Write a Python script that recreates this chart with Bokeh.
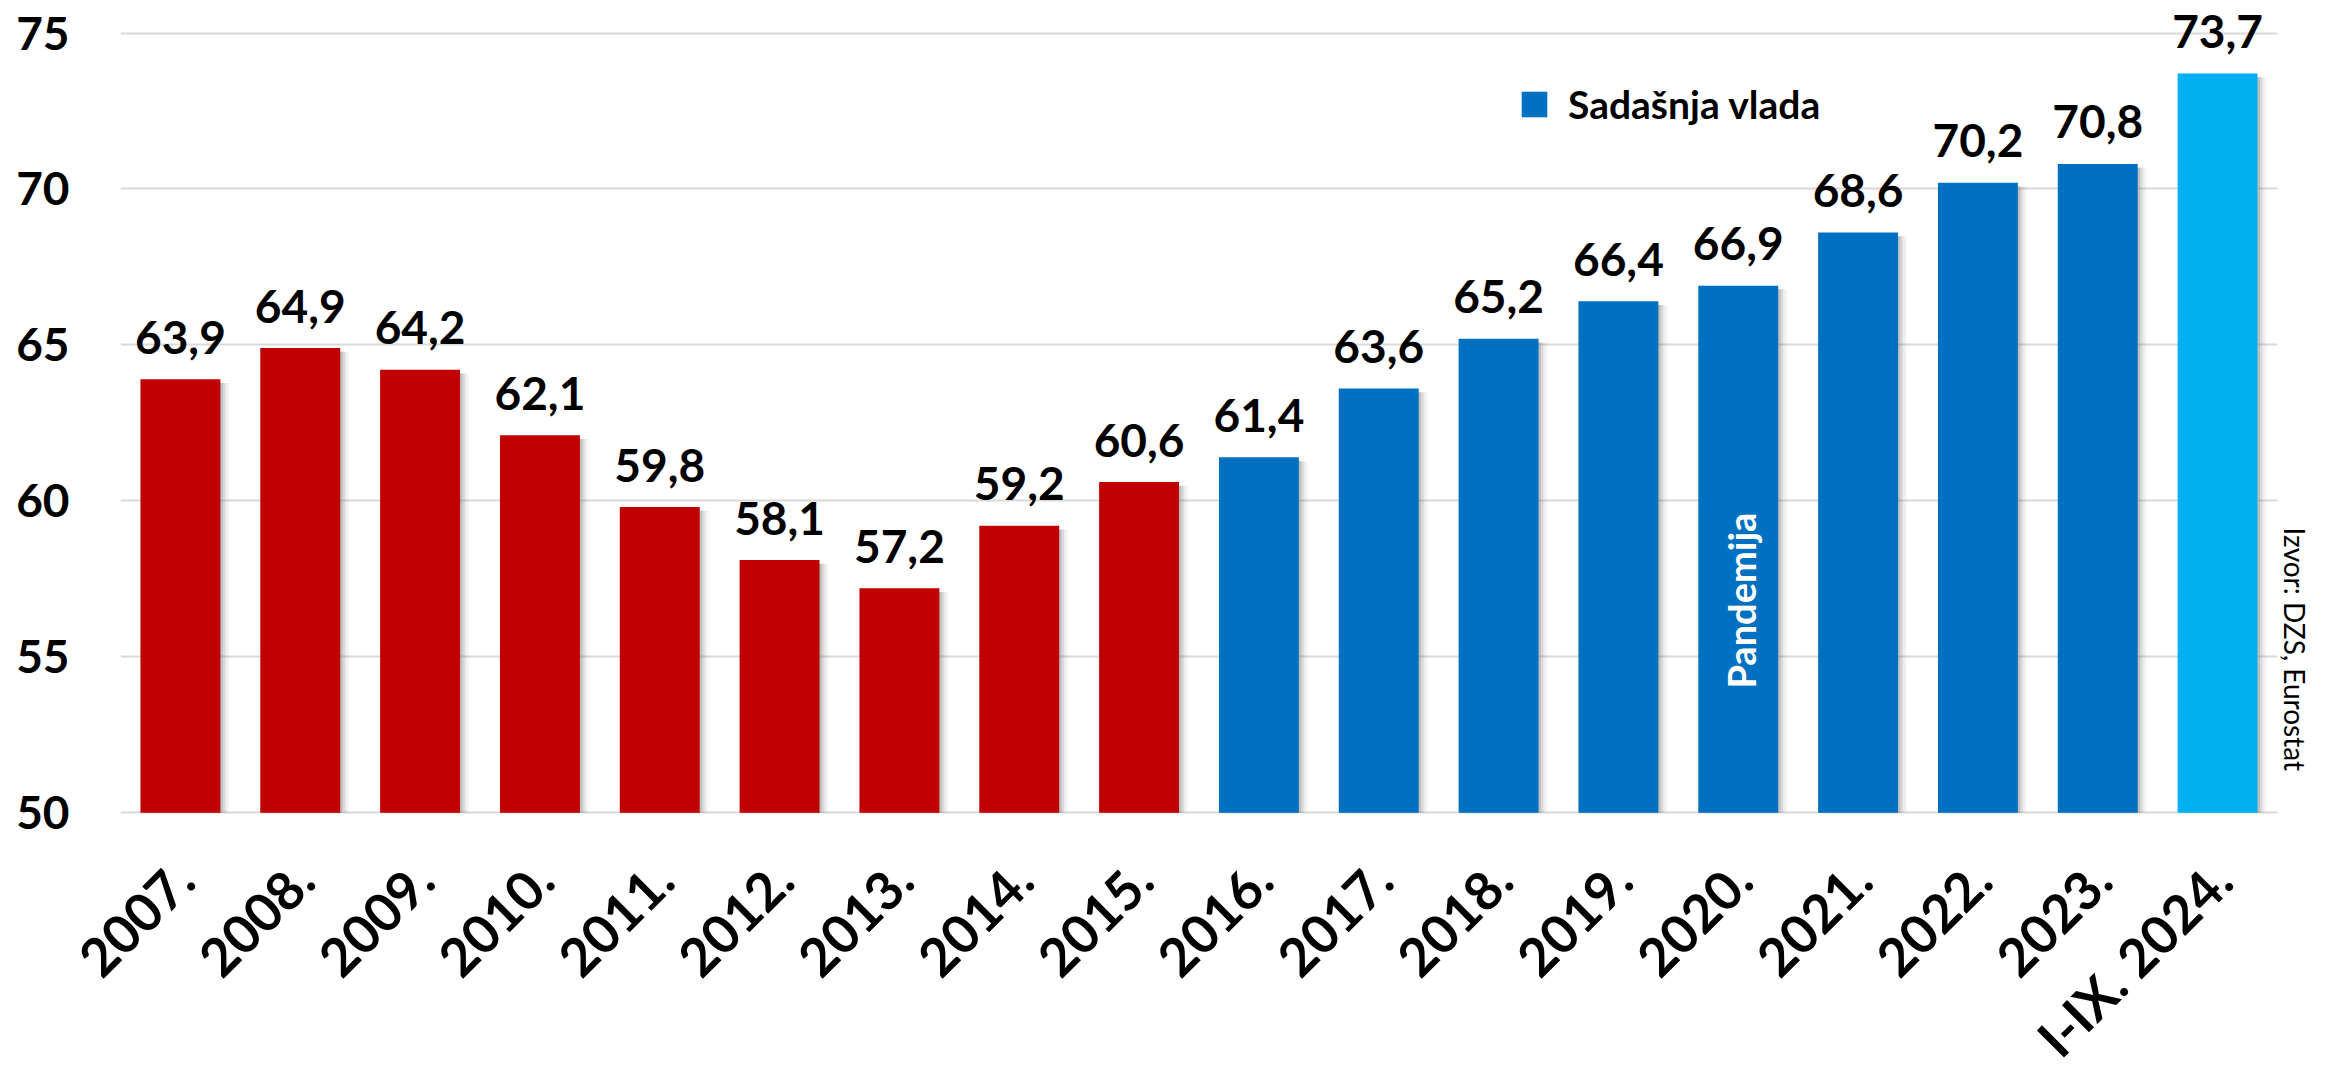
from math import pi
from bokeh.plotting import figure
from bokeh.models import ColumnDataSource, Legend, LegendItem, Title, FixedTicker
from bokeh.transform import dodge
from bokeh.core.properties import value
from bokeh.embed import file_html
from bokeh.resources import INLINE

# ---- data -------------------------------------------------------------
years = ["2007.", "2008.", "2009.", "2010.", "2011.", "2012.", "2013.", "2014.",
         "2015.", "2016.", "2017.", "2018.", "2019.", "2020.", "2021.", "2022.",
         "2023.", "I-IX. 2024."]
rates = [63.9, 64.9, 64.2, 62.1, 59.8, 58.1, 57.2, 59.2, 60.6,
         61.4, 63.6, 65.2, 66.4, 66.9, 68.6, 70.2, 70.8, 73.7]
period = ["before"] * 9 + ["current"] * 8 + ["partial"]
y_ticks = [50, 55, 60, 65, 70, 75]
y_base = 50
legend_label = "Sadašnja vlada"
pandemic_year = "2020."
pandemic_text = "Pandemija"
source_note = "Izvor: DZS, Eurostat"

# ---- styling ----------------------------------------------------------
palette = {"before": "#C00000", "current": "#0070C0", "partial": "#00B0F0"}
FONT_NAME = "Lato"
FONT = value(FONT_NAME)

src = ColumnDataSource(dict(
    year=years,
    rate=rates,
    shadow_top=[r - 0.12 for r in rates],
    color=[palette[k] for k in period],
    label=[f"{r:.1f}".replace(".", ",") for r in rates],
))

# y range reaches below the 50 baseline so that the slanted category
# labels can sit under the bars inside the plotting frame
p = figure(x_range=years, y_range=(41.83, 75.85), width=2313, height=1067,
           output_backend="svg", toolbar_location=None,
           x_axis_location=None,
           min_border_left=120, min_border_right=31,
           min_border_top=6, min_border_bottom=0)
p.outline_line_color = None
p.background_fill_color = "white"
p.border_fill_color = "white"

BAR_W = 0.667
# soft shadow to the right of each bar
for off, a in [(0.02, 0.20), (0.04, 0.14), (0.06, 0.08), (0.08, 0.04)]:
    p.vbar(x=dodge("year", off, range=p.x_range), top="shadow_top", bottom=y_base,
           width=BAR_W, fill_color="#606060", fill_alpha=a, line_color=None,
           source=src)

bars = p.vbar(x="year", top="rate", bottom=y_base, width=BAR_W,
              fill_color="color", line_color=None, source=src)

# value labels
p.text(x="year", y="rate", text="label", source=src,
       text_font=FONT, text_font_style="bold", text_font_size="46px",
       text_color="black", text_align="center", text_baseline="alphabetic",
       y_offset=-42, level="overlay")

# category labels (slanted, under the baseline)
p.text(x="year", y=y_base, text="year", source=src, angle=pi / 4,
       text_font=FONT, text_font_style="bold", text_font_size="53px",
       text_color="black", text_align="right", text_baseline="middle",
       x_offset=4, y_offset=58, level="overlay")

pan = ColumnDataSource(dict(x=[pandemic_year], y=[56.8], t=[pandemic_text]))
p.text(x="x", y="y", text="t", source=pan, angle=pi / 2,
       text_font=FONT, text_font_style="bold", text_font_size="38px",
       text_color="white", text_align="center", text_baseline="middle",
       x_offset=3)

# y axis
p.yaxis.ticker = FixedTicker(ticks=y_ticks)
p.yaxis.axis_line_color = None
p.yaxis.major_tick_line_color = None
p.yaxis.minor_tick_line_color = None
p.yaxis.major_tick_out = 0
p.yaxis.major_tick_in = 0
p.yaxis.major_label_standoff = 51
p.yaxis.major_label_text_font = FONT_NAME
p.yaxis.major_label_text_font_style = "bold"
p.yaxis.major_label_text_font_size = "46px"
p.yaxis.major_label_text_color = "black"

p.xgrid.grid_line_color = None
p.ygrid.grid_line_color = "#D9D9D9"
p.ygrid.grid_line_width = 2

legend = Legend(items=[LegendItem(label=legend_label, renderers=[bars], index=9)],
                location=(1398, 940), orientation="horizontal",
                glyph_width=32, glyph_height=32, label_standoff=18,
                label_text_font=FONT_NAME, label_text_font_style="bold",
                label_text_font_size="39px", label_text_color="black",
                padding=0, margin=0, spacing=0,
                border_line_color=None, background_fill_alpha=0)
p.add_layout(legend)

p.add_layout(Title(text=source_note, align="left", offset=521, standoff=0,
                   text_font=FONT_NAME, text_font_size="28px",
                   text_font_style="normal", text_color="black"), "right")

open("out.html", "w").write(file_html(p, INLINE))
